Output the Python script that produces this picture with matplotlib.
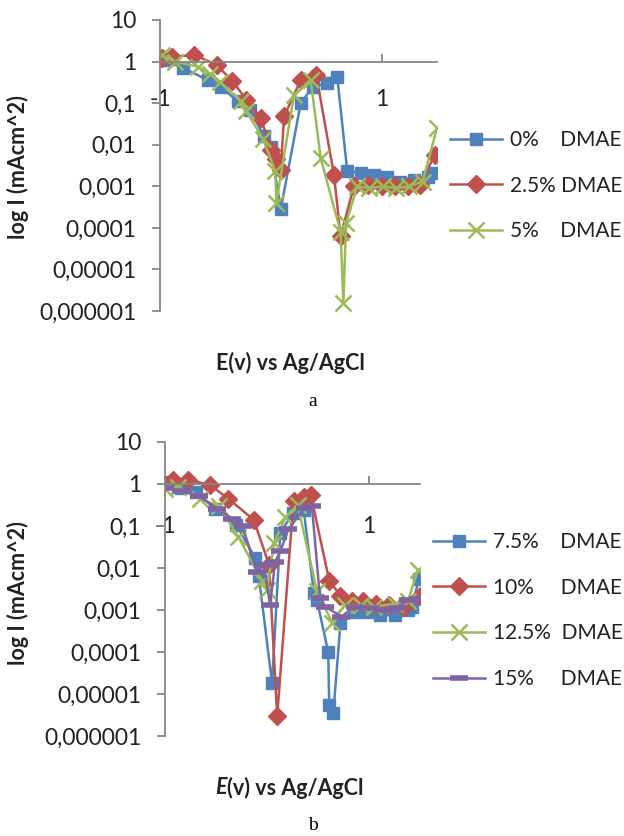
import matplotlib
matplotlib.use("Agg")
import matplotlib.pyplot as plt
from matplotlib.ticker import FixedLocator, NullLocator

plt.rcParams['font.family'] = ['Lato', 'DejaVu Sans']

# --- panel a: potential (V) and current density (mA/cm^2) ---
e_0 = [-0.97, -0.79, -0.57, -0.45, -0.30, -0.19, -0.06, 0.00, 0.09, 0.27, 0.38,
       0.51, 0.60, 0.69, 0.81, 0.93, 1.05, 1.17, 1.29, 1.42, 1.46]
i_0 = [1.1, 0.7, 0.36, 0.25, 0.11, 0.07, 0.016, 0.009, 0.00028, 0.1, 0.25,
       0.3, 0.42, 0.0023, 0.0021, 0.0019, 0.0017, 0.0013, 0.0014, 0.0017, 0.0021]

e_25 = [-0.985, -0.895, -0.69, -0.49, -0.35, -0.22, -0.09, 0.00, 0.05, 0.09,
        0.12, 0.27, 0.41, 0.57, 0.63, 0.75, 0.88, 1.00, 1.12, 1.24, 1.35, 1.48]
i_25 = [1.2, 1.3, 1.45, 0.83, 0.35, 0.12, 0.044, 0.0076, 0.0045, 0.0025,
        0.048, 0.36, 0.48, 0.0019, 0.000063, 0.001, 0.0011, 0.001, 0.001, 0.001, 0.0011, 0.0058]

e_5 = [-0.985, -0.865, -0.66, -0.55, -0.46, -0.27, -0.22, -0.07, 0.04, 0.05,
       0.21, 0.36, 0.45, 0.63, 0.655, 0.68, 0.78, 0.89, 1.01, 1.13, 1.25, 1.37, 1.50]
i_5 = [1.45, 1.0, 0.75, 0.5, 0.33, 0.11, 0.063, 0.014, 0.0023, 0.0004,
       0.16, 0.36, 0.0048, 0.00008, 0.0000016, 0.00013, 0.001, 0.0009, 0.001, 0.0009, 0.001, 0.0013, 0.025]

# --- panel b ---
e_75 = [-1.0, -0.84, -0.70, -0.51, -0.30, -0.115, -0.08, 0.05, 0.13, 0.25, 0.36,
        0.46, 0.49, 0.60, 0.61, 0.65, 0.72, 0.85, 0.98, 1.11, 1.25, 1.38, 1.42, 1.49]
i_75 = [1.1, 0.8, 0.66, 0.26, 0.105, 0.017, 0.0063, 0.000018, 0.067, 0.2, 0.24,
        0.0025, 0.0017, 0.0001, 0.0000055, 0.0000035, 0.00048, 0.0009, 0.0009, 0.00075, 0.00075, 0.001, 0.0012, 0.0055]

e_10 = [-0.92, -0.77, -0.56, -0.38, -0.13, 0.02, 0.10, 0.26, 0.36, 0.43,
        0.61, 0.72, 0.83, 0.94, 1.07, 1.20, 1.34, 1.50]
i_10 = [1.25, 1.25, 0.95, 0.45, 0.14, 0.012, 0.000003, 0.4, 0.5, 0.55,
        0.005, 0.0022, 0.0016, 0.0016, 0.0014, 0.0013, 0.0012, 0.0022]

e_125 = [-1.0, -0.87, -0.66, -0.47, -0.28, -0.05, 0.00, 0.07, 0.18, 0.30,
         0.49, 0.64, 0.76, 0.92, 1.05, 1.25, 1.38, 1.48]
i_125 = [0.75, 0.85, 0.45, 0.3, 0.055, 0.005, 0.003, 0.04, 0.16, 0.32,
         0.0028, 0.0005, 0.0013, 0.0013, 0.0012, 0.0014, 0.0016, 0.009]

e_15 = [-1.0, -0.84, -0.67, -0.49, -0.34, -0.24, -0.10, -0.03, 0.03, 0.08, 0.13,
        0.21, 0.37, 0.44, 0.52, 0.57, 0.73, 0.86, 1.02, 1.15, 1.28, 1.38, 1.48]
i_15 = [0.8, 0.7, 0.52, 0.26, 0.15, 0.1, 0.008, 0.012, 0.0013, 0.014, 0.025,
        0.085, 0.27, 0.3, 0.0019, 0.0012, 0.0007, 0.0012, 0.0011, 0.001, 0.0011, 0.0017, 0.0018]

y_ticks = [1e-6, 1e-5, 1e-4, 1e-3, 1e-2, 1e-1, 1, 10]
y_labels = ['0,000001', '0,00001', '0,0001', '0,001', '0,01', '0,1', '1', '10']
x_ticks = [-1, 1]
x_labels = ['-1', '1']

blue = '#4F81BD'
red = '#C0504D'
green = '#9BBB59'
purple = '#8064A2'
grey = '#868686'
ink = '#222222'

fig = plt.figure(figsize=(6.24, 8.36), dpi=100)
ax_a = fig.add_axes([160 / 624, 1 - 311 / 836, 277 / 624, 291 / 836])
ax_b = fig.add_axes([165 / 624, 1 - 736 / 836, 255 / 624, 294 / 836])


def style(ax, xpad):
    ax.set_yscale('log')
    ax.set_ylim(1e-6, 10)
    ax.set_xlim(-1, 1.5)
    ax.patch.set_alpha(0)
    ax.spines['top'].set_visible(False)
    ax.spines['right'].set_visible(False)
    ax.spines['bottom'].set_position(('data', 1))
    for s in ('left', 'bottom'):
        ax.spines[s].set_color(grey)
        ax.spines[s].set_linewidth(1.3)
    ax.yaxis.set_major_locator(FixedLocator(y_ticks))
    ax.yaxis.set_minor_locator(NullLocator())
    ax.set_yticklabels(y_labels)
    ax.set_xticks(x_ticks)
    ax.set_xticklabels(x_labels)
    ax.tick_params(axis='y', direction='out', length=6, width=1.3, color=grey,
                   pad=11, labelsize=16.5, labelcolor=ink)
    ax.tick_params(axis='x', direction='in', length=6, width=1.3, color=grey,
                   pad=xpad, labelsize=16.5, labelcolor=ink)


lw = 1.8
ax_a.plot(e_0, i_0, color=blue, lw=lw, marker='s', ms=8, label='0%    DMAE')
ax_a.plot(e_25, i_25, color=red, lw=lw, marker='D', ms=9, label='2.5% DMAE')
ax_a.plot(e_5, i_5, color=green, lw=lw, marker='x', ms=11, mew=1.8, label='5%    DMAE')
style(ax_a, 20)

ax_b.plot(e_75, i_75, color=blue, lw=lw, marker='s', ms=8, label='7.5%    DMAE')
ax_b.plot(e_10, i_10, color=red, lw=lw, marker='D', ms=9, label='10%     DMAE')
ax_b.plot(e_125, i_125, color=green, lw=lw, marker='x', ms=11, mew=1.8, label='12.5%  DMAE')
ax_b.plot(e_15, i_15, color=purple, lw=lw, marker='_', ms=13, mew=4, label='15%     DMAE')
style(ax_b, 23)

leg_kw = dict(loc='upper left', bbox_transform=fig.transFigure, frameon=False,
              fontsize=15, borderpad=0, borderaxespad=0, handlelength=2.5,
              handletextpad=0.38, labelspacing=1.23, numpoints=1, labelcolor=ink)
ax_a.legend(bbox_to_anchor=(450 / 624, 1 - 130 / 836), **leg_kw)
ax_b.legend(bbox_to_anchor=(433 / 624, 1 - 532 / 836), **leg_kw)

# axis titles
fig.text(18 / 624, 1 - 167 / 836, 'log I (mAcm^2)', rotation=90, ha='center',
         va='center', fontsize=15.5, fontweight='bold', color=ink)
fig.text(18 / 624, 1 - 593 / 836, 'log I (mAcm^2)', rotation=90, ha='center',
         va='center', fontsize=15.5, fontweight='bold', color=ink)
fig.text(290 / 624, 1 - 363 / 836, 'E(v) vs Ag/AgCl', ha='center', va='center',
         fontsize=15.5, fontweight='bold', color=ink)
fig.text(227 / 624, 1 - 788 / 836, 'E', ha='right', va='center', fontsize=15.5,
         fontweight='bold', style='italic', color=ink)
fig.text(227 / 624, 1 - 788 / 836, '(v) vs Ag/AgCl', ha='left', va='center',
         fontsize=15.5, fontweight='bold', color=ink)

fig.text(313 / 624, 1 - 402 / 836, 'a', ha='center', va='center', fontsize=14,
         family='Liberation Serif')
fig.text(313 / 624, 1 - 825 / 836, 'b', ha='center', va='center', fontsize=14,
         family='Liberation Serif')

fig.savefig('out.png', dpi=100)
